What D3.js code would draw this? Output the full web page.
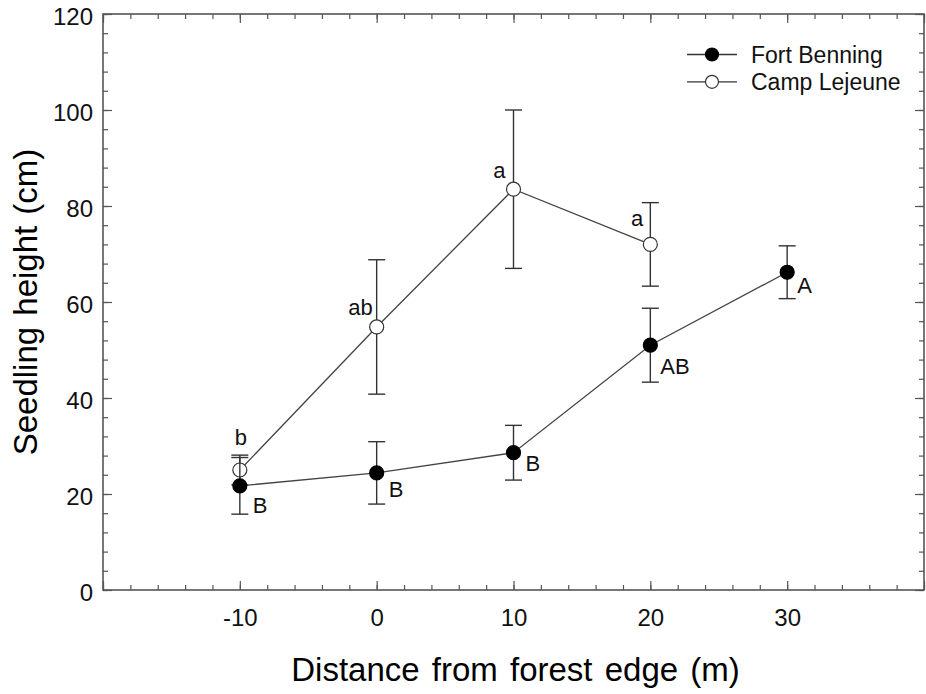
<!DOCTYPE html>
<html>
<head>
<meta charset="utf-8">
<script src="https://cdn.jsdelivr.net/npm/d3@7"></script>
<style>
  html, body { margin: 0; padding: 0; background: #fff; }
  svg { display: block; font-family: "Liberation Sans", Arial, sans-serif; }
</style>
</head>
<body>
<svg id="chart" width="926" height="694"></svg>
<script>
// Distance from the forest edge (m)
const distances = [-10, 0, 10, 20, 30];

// Fort Benning: mean seedling height (cm), error, and group letters
const benningMean = [21.7, 24.4, 28.6, 51.0, 66.2];
const benningErr = [5.9, 6.5, 5.7, 7.7, 5.5];
const benningLetters = ["B", "B", "B", "AB", "A"];

// Camp Lejeune: mean seedling height (cm), error, and group letters
const lejeuneDistances = [-10, 0, 10, 20];
const lejeuneMean = [25.0, 54.8, 83.5, 72.0];
const lejeuneErr = [3.1, 14.0, 16.5, 8.7];
const lejeuneLetters = ["b", "ab", "a", "a"];

// Axis ticks
const xTickLabels = [-10, 0, 10, 20, 30];
const yTickLabels = [0, 20, 40, 60, 80, 100, 120];

// Letter placement around each point (pixels)
const benningLabelPos = [
  { dx: 13, dy: 27, anchor: "start" },
  { dx: 12, dy: 24, anchor: "start" },
  { dx: 12, dy: 18, anchor: "start" },
  { dx: 10, dy: 29, anchor: "start" },
  { dx: 10, dy: 21, anchor: "start" }
];
const lejeuneLabelPos = [
  { dx: 1, dy: -25, anchor: "middle" },
  { dx: -4, dy: -12, anchor: "end" },
  { dx: -8, dy: -11, anchor: "end" },
  { dx: -7, dy: -18, anchor: "end" }
];

const svg = d3.select("#chart");
const plot = { left: 103, right: 924, top: 14, bottom: 590 };

const x = d3.scaleLinear().domain([-20, 40]).range([plot.left, plot.right]);
const y = d3.scaleLinear().domain([0, 120]).range([plot.bottom, plot.top]);

const axisColor = "#555";

// Minor ticks
const xMinor = d3.range(-20, 40.001, 2);
const yMinor = d3.range(0, 120.001, 4);
const majorX = d3.range(-20, 40.001, 10);

function styleAxis(g) {
  g.select(".domain").remove();
  g.selectAll(".tick line").attr("stroke", axisColor).attr("stroke-width", 1.2);
}

svg.append("g").attr("transform", `translate(0,${plot.bottom})`)
  .call(d3.axisBottom(x).tickValues(xMinor).tickSize(-5).tickFormat(""))
  .call(styleAxis);
svg.append("g").attr("transform", `translate(0,${plot.top})`)
  .call(d3.axisTop(x).tickValues(xMinor).tickSize(-5).tickFormat(""))
  .call(styleAxis);
svg.append("g").attr("transform", `translate(${plot.left},0)`)
  .call(d3.axisLeft(y).tickValues(yMinor).tickSize(-5).tickFormat(""))
  .call(styleAxis);
svg.append("g").attr("transform", `translate(${plot.right},0)`)
  .call(d3.axisRight(y).tickValues(yMinor).tickSize(-5).tickFormat(""))
  .call(styleAxis);

// Major ticks
svg.append("g").attr("transform", `translate(0,${plot.top})`)
  .call(d3.axisTop(x).tickValues(majorX).tickSize(-9).tickFormat(""))
  .call(styleAxis);
svg.append("g").attr("transform", `translate(${plot.right},0)`)
  .call(d3.axisRight(y).tickValues(yTickLabels).tickSize(-9).tickFormat(""))
  .call(styleAxis);

const xAxis = svg.append("g").attr("transform", `translate(0,${plot.bottom})`)
  .call(d3.axisBottom(x).tickValues(majorX).tickSize(-9).tickPadding(19)
    .tickFormat(d => xTickLabels.includes(d) ? d : ""))
  .call(styleAxis);
xAxis.selectAll("text").attr("font-size", 24).attr("fill", "#111")
  .attr("font-family", "Liberation Sans, Arial, sans-serif");

const yAxis = svg.append("g").attr("transform", `translate(${plot.left},0)`)
  .call(d3.axisLeft(y).tickValues(yTickLabels).tickSize(-9).tickPadding(10))
  .call(styleAxis);
yAxis.selectAll("text").attr("font-size", 24).attr("fill", "#111").attr("dy", "0.45em")
  .attr("font-family", "Liberation Sans, Arial, sans-serif");

// Frame
svg.append("rect")
  .attr("x", plot.left).attr("y", plot.top)
  .attr("width", plot.right - plot.left).attr("height", plot.bottom - plot.top)
  .attr("fill", "none").attr("stroke", axisColor).attr("stroke-width", 1.6);

// Axis titles
svg.append("text")
  .attr("x", (plot.left + plot.right) / 2 + 2).attr("y", 681)
  .attr("text-anchor", "middle").attr("font-size", 33).attr("fill", "#000")
  .attr("word-spacing", 3)
  .text("Distance from forest edge (m)");

svg.append("text")
  .attr("transform", `translate(37,${(plot.top + plot.bottom) / 2}) rotate(-90)`)
  .attr("text-anchor", "middle").attr("font-size", 33).attr("fill", "#000")
  .attr("word-spacing", 2)
  .text("Seedling height (cm)");

const benning = distances.map((d, i) => ({ x: d, m: benningMean[i], e: benningErr[i], l: benningLetters[i], p: benningLabelPos[i] }));
const lejeune = lejeuneDistances.map((d, i) => ({ x: d, m: lejeuneMean[i], e: lejeuneErr[i], l: lejeuneLetters[i], p: lejeuneLabelPos[i] }));

const line = d3.line().x(d => x(d.x)).y(d => y(d.m));
const capHalf = 8.5;
const r = 7;

function drawSeries(data, filled) {
  const g = svg.append("g");
  g.append("path").datum(data).attr("d", line)
    .attr("fill", "none").attr("stroke", "#444").attr("stroke-width", 1.3);
  const eb = g.selectAll(".eb").data(data).enter().append("g");
  eb.append("line")
    .attr("x1", d => x(d.x)).attr("x2", d => x(d.x))
    .attr("y1", d => y(d.m - d.e)).attr("y2", d => y(d.m + d.e))
    .attr("stroke", "#333").attr("stroke-width", 1.4);
  eb.append("line")
    .attr("x1", d => x(d.x) - capHalf).attr("x2", d => x(d.x) + capHalf)
    .attr("y1", d => y(d.m + d.e)).attr("y2", d => y(d.m + d.e))
    .attr("stroke", "#333").attr("stroke-width", 1.4);
  eb.append("line")
    .attr("x1", d => x(d.x) - capHalf).attr("x2", d => x(d.x) + capHalf)
    .attr("y1", d => y(d.m - d.e)).attr("y2", d => y(d.m - d.e))
    .attr("stroke", "#333").attr("stroke-width", 1.4);
  return g;
}

function drawMarkers(g, data, filled) {
  g.selectAll(".pt").data(data).enter().append("circle")
    .attr("cx", d => x(d.x)).attr("cy", d => y(d.m)).attr("r", r)
    .attr("fill", filled ? "#000" : "#fff")
    .attr("stroke", filled ? "#000" : "#333").attr("stroke-width", 1.2);
  g.selectAll(".lbl").data(data).enter().append("text")
    .attr("x", d => x(d.x) + d.p.dx).attr("y", d => y(d.m) + d.p.dy)
    .attr("text-anchor", d => d.p.anchor)
    .attr("font-size", 22).attr("fill", "#111")
    .text(d => d.l);
}

const gL = drawSeries(lejeune, false);
const gB = drawSeries(benning, true);
drawMarkers(gL, lejeune, false);
drawMarkers(gB, benning, true);

// Legend
const legend = svg.append("g");
const legendItems = [
  { name: "Fort Benning", filled: true },
  { name: "Camp Lejeune", filled: false }
];
legendItems.forEach((it, i) => {
  const ly = 54.5 + i * 27.3;
  legend.append("line").attr("x1", 687).attr("x2", 737).attr("y1", ly).attr("y2", ly)
    .attr("stroke", "#333").attr("stroke-width", 1.3);
  legend.append("circle").attr("cx", 712).attr("cy", ly).attr("r", 6.5)
    .attr("fill", it.filled ? "#000" : "#fff")
    .attr("stroke", it.filled ? "#000" : "#333").attr("stroke-width", 1.2);
  legend.append("text").attr("x", 751).attr("y", ly + 8.5)
    .attr("font-size", 23).attr("fill", "#111").text(it.name);
});
</script>
</body>
</html>
